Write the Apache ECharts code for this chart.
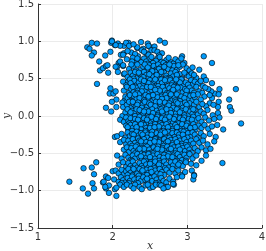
<!DOCTYPE html>
<html>
<head>
<meta charset="utf-8">
<script src="https://cdn.jsdelivr.net/npm/echarts@6/dist/echarts.min.js"></script>
<style>html,body{margin:0;padding:0;background:#fff}#c{width:266px;height:251px}</style>
</head>
<body>
<div id="c"></div>
<script>
const xTicks = [1, 2, 3, 4];
const xTickLabels = ['1', '2', '3', '4'];
const yTicks = [-1.5, -1.0, -0.5, 0.0, 0.5, 1.0, 1.5];
const yTickLabels = ['\u22121.5', '\u22121.0', '\u22120.5', '0.0', '0.5', '1.0', '1.5'];
const xName = 'x';
const yName = 'y';

const pointsTop = [
[1.66,0.92],[1.69,0.90],[1.72,0.98],[1.79,0.97],[1.98,0.98],[1.99,1.01],[2.03,0.95],[2.07,0.97],[2.15,0.94],[2.21,0.98],[2.18,0.98],[2.22,0.94],[2.10,0.94],[2.33,0.91],[2.47,0.97],[2.49,0.93],[2.33,0.92],[2.41,0.90],[2.48,0.94],[2.63,1.01],[2.70,0.98],[2.04,0.95],[2.28,0.96],[2.38,0.99],[2.56,0.93],[1.99,1.0],
[1.75,0.85],[1.72,0.81],[1.90,0.81],[1.97,0.86],[2.11,0.82],[2.15,0.84],[2.14,0.82],[2.25,0.85],[2.39,0.88],[2.52,0.88],[2.45,0.84],[2.56,0.88],[2.34,0.80],[2.93,0.80],[3.22,0.80],[2.30,0.83],[2.60,0.86],[2.48,0.82],[2.66,0.84],[2.20,0.87],[2.42,0.86],[2.62,0.81],
[1.82,0.73],[2.08,0.71],[2.19,0.76],[2.10,0.73],[2.27,0.78],[2.35,0.74],[2.49,0.76],[2.56,0.72],[2.72,0.75],[2.70,0.70],[2.65,0.73],[2.96,0.71],[3.33,0.71],[2.42,0.77],[2.30,0.71],[2.52,0.79],[2.60,0.77],[2.38,0.72],[2.45,0.73],[2.58,0.74],[2.78,0.72],[2.84,0.76],[2.63,0.79],[2.75,0.78],[2.26,0.73],[2.54,0.71],[2.68,0.71],[2.88,0.73],[2.81,0.70],[2.47,0.70],[2.33,0.77],[2.92,0.77],
[1.83,0.61],[1.87,0.64],[1.91,0.67],[1.93,0.68],[2.06,0.66],[2.04,0.66],[2.14,0.67],[2.14,0.68],[2.99,0.64],[3.16,0.62],[2.78,0.64],[2.22,0.63],[2.28,0.66],[2.33,0.69],[2.37,0.62],[2.41,0.66],[2.45,0.61],[2.49,0.68],[2.52,0.64],[2.55,0.67],[2.58,0.62],[2.61,0.69],[2.64,0.65],[2.67,0.61],[2.71,0.68],[2.74,0.63],[2.82,0.67],[2.86,0.62],[2.90,0.66],[2.94,0.69],[3.03,0.61],[3.07,0.65],[2.25,0.69],[2.43,0.69],[2.56,0.60],[2.69,0.66],[2.80,0.61],[2.31,0.61],[2.47,0.65],[2.62,0.63],[2.76,0.69],[2.88,0.68],
[1.94,0.58],[2.07,0.59],[2.15,0.56],[2.16,0.57],[2.90,0.56],[2.99,0.55],[3.22,0.53],[2.20,0.52],[2.24,0.58],[2.27,0.54],[2.30,0.59],[2.33,0.51],[2.36,0.56],[2.39,0.53],[2.42,0.59],[2.45,0.55],[2.48,0.51],[2.51,0.57],[2.54,0.53],[2.57,0.59],[2.60,0.52],[2.63,0.56],[2.66,0.50],[2.69,0.58],[2.72,0.54],[2.75,0.51],[2.78,0.57],[2.81,0.53],[2.84,0.59],[2.87,0.52],[2.93,0.50],[2.96,0.58],[3.02,0.53],[3.06,0.57],[3.12,0.51],[2.28,0.50],[2.41,0.52],[2.53,0.60],[2.65,0.59],[2.77,0.50],[2.35,0.58],[2.59,0.55],[2.71,0.50],[2.86,0.55],[3.09,0.55],[2.49,0.56]
];

const pointsUpperMid = [
[1.79,0.43],[2.14,0.46],[2.21,0.46],[3.25,0.48],[3.05,0.48],[3.07,0.42],[3.33,0.44],[3.21,0.40],[2.18,0.41],[2.23,0.49],[2.26,0.43],[2.29,0.47],[2.32,0.41],[2.35,0.45],[2.38,0.49],[2.41,0.42],[2.44,0.46],[2.47,0.40],[2.50,0.48],[2.53,0.43],[2.56,0.47],[2.59,0.41],[2.62,0.45],[2.65,0.49],[2.68,0.42],[2.71,0.46],[2.74,0.40],[2.77,0.48],[2.80,0.44],[2.83,0.41],[2.86,0.47],[2.89,0.43],[2.92,0.49],[2.95,0.41],[2.98,0.45],[3.01,0.42],[3.10,0.46],[3.14,0.43],[2.24,0.44],[2.36,0.40],[2.48,0.44],[2.57,0.49],[2.66,0.44],[2.79,0.41],[2.90,0.45],[3.18,0.47],[2.42,0.47],[2.70,0.48],[2.85,0.49],[2.61,0.40],
[1.97,0.37],[1.96,0.30],[2.01,0.30],[2.04,0.33],[2.15,0.34],[2.19,0.39],[3.43,0.36],[3.65,0.36],[3.37,0.30],[3.32,0.33],[3.12,0.39],[3.16,0.33],[3.28,0.36],[2.22,0.31],[2.25,0.36],[2.28,0.32],[2.31,0.38],[2.34,0.34],[2.37,0.30],[2.40,0.37],[2.43,0.33],[2.46,0.39],[2.49,0.31],[2.52,0.35],[2.55,0.38],[2.58,0.32],[2.61,0.36],[2.64,0.30],[2.67,0.39],[2.70,0.34],[2.73,0.31],[2.76,0.37],[2.79,0.33],[2.82,0.39],[2.85,0.30],[2.88,0.35],[2.91,0.38],[2.94,0.32],[2.97,0.36],[3.00,0.30],[3.03,0.38],[3.06,0.34],[3.09,0.31],[3.20,0.31],[3.24,0.38],[2.27,0.39],[2.39,0.33],[2.51,0.39],[2.63,0.34],[2.75,0.30],[2.87,0.38],[2.99,0.34],[2.33,0.31],[2.57,0.35],[2.81,0.35],
[2.05,0.22],[2.16,0.21],[2.17,0.26],[3.33,0.24],[3.23,0.26],[3.56,0.22],[3.30,0.28],[3.42,0.29],[2.20,0.24],[2.23,0.28],[2.26,0.21],[2.29,0.26],[2.32,0.23],[2.35,0.29],[2.38,0.20],[2.41,0.25],[2.44,0.28],[2.47,0.22],[2.50,0.27],[2.53,0.20],[2.56,0.24],[2.59,0.29],[2.62,0.22],[2.65,0.26],[2.68,0.20],[2.71,0.28],[2.74,0.23],[2.77,0.27],[2.80,0.21],[2.83,0.25],[2.86,0.29],[2.89,0.22],[2.92,0.26],[2.95,0.20],[2.98,0.28],[3.01,0.23],[3.04,0.27],[3.07,0.21],[3.10,0.25],[3.14,0.29],[3.18,0.22],[2.24,0.20],[2.36,0.24],[2.48,0.26],[2.60,0.25],[2.72,0.24],[2.84,0.21],[2.96,0.24],[3.08,0.28],[2.30,0.29],[2.42,0.21],[2.54,0.28],[2.66,0.23],[2.78,0.29],[2.90,0.20],
[1.99,0.19],[1.91,0.11],[2.05,0.12],[2.13,0.18],[2.14,0.12],[3.57,0.12],[3.42,0.19],[3.41,0.12],[3.30,0.17],[3.25,0.13],[2.19,0.15],[2.22,0.19],[2.25,0.11],[2.28,0.16],[2.31,0.13],[2.34,0.18],[2.37,0.10],[2.40,0.15],[2.43,0.19],[2.46,0.12],[2.49,0.17],[2.52,0.10],[2.55,0.14],[2.58,0.19],[2.61,0.12],[2.64,0.16],[2.67,0.11],[2.70,0.18],[2.73,0.13],[2.76,0.17],[2.79,0.10],[2.82,0.15],[2.85,0.19],[2.88,0.12],[2.91,0.16],[2.94,0.11],[2.97,0.18],[3.00,0.13],[3.03,0.17],[3.06,0.10],[3.09,0.15],[3.12,0.19],[3.16,0.12],[3.20,0.16],[2.27,0.19],[2.39,0.11],[2.51,0.15],[2.63,0.19],[2.75,0.14],[2.87,0.17],[2.99,0.15],[2.33,0.15],[2.57,0.13],[2.81,0.11],[3.35,0.15],
[1.98,0.06],[2.13,0.00],[3.59,0.07],[3.41,0.04],[3.34,0.01],[2.17,0.05],[2.20,0.09],[2.23,0.02],[2.26,0.07],[2.29,0.04],[2.32,0.09],[2.35,0.01],[2.38,0.06],[2.41,0.03],[2.44,0.08],[2.47,0.00],[2.50,0.05],[2.53,0.09],[2.56,0.02],[2.59,0.07],[2.62,0.04],[2.65,0.09],[2.68,0.01],[2.71,0.06],[2.74,0.03],[2.77,0.08],[2.80,0.00],[2.83,0.05],[2.86,0.09],[2.89,0.02],[2.92,0.07],[2.95,0.04],[2.98,0.09],[3.01,0.01],[3.04,0.06],[3.07,0.03],[3.10,0.08],[3.14,0.02],[3.18,0.06],[3.22,0.03],[3.27,0.08],[2.24,0.05],[2.36,0.08],[2.48,0.06],[2.60,0.01],[2.72,0.09],[2.84,0.03],[2.96,0.01],[3.08,0.09],[2.30,0.00],[2.42,0.06],[2.54,0.04],[2.66,0.06],[2.78,0.04],[2.90,0.05]
];

const pointsLowerMid = [
[3.72,-0.10],[3.43,-0.02],[2.10,-0.05],[2.15,-0.08],[2.18,-0.02],[2.21,-0.07],[2.24,-0.03],[2.27,-0.09],[2.30,-0.04],[2.33,-0.08],[2.36,-0.01],[2.39,-0.06],[2.42,-0.03],[2.45,-0.09],[2.48,-0.02],[2.51,-0.07],[2.54,-0.04],[2.57,-0.09],[2.60,-0.01],[2.63,-0.06],[2.66,-0.03],[2.69,-0.08],[2.72,-0.02],[2.75,-0.07],[2.78,-0.04],[2.81,-0.09],[2.84,-0.01],[2.87,-0.06],[2.90,-0.03],[2.93,-0.08],[2.96,-0.02],[2.99,-0.07],[3.02,-0.04],[3.05,-0.09],[3.08,-0.01],[3.11,-0.06],[3.15,-0.03],[3.19,-0.08],[3.24,-0.02],[3.29,-0.06],[3.36,-0.04],[2.22,-0.10],[2.34,-0.05],[2.46,-0.05],[2.58,-0.04],[2.70,-0.05],[2.82,-0.04],[2.94,-0.05],[3.06,-0.05],[2.40,-0.10],[2.64,-0.10],[2.88,-0.10],[2.52,-0.01],[2.76,-0.01],[3.00,-0.10],
[2.18,-0.13],[2.21,-0.18],[2.24,-0.12],[2.27,-0.16],[2.30,-0.11],[2.33,-0.19],[2.36,-0.14],[2.39,-0.17],[2.42,-0.12],[2.45,-0.16],[2.48,-0.19],[2.51,-0.13],[2.54,-0.17],[2.57,-0.11],[2.60,-0.15],[2.63,-0.19],[2.66,-0.12],[2.69,-0.16],[2.72,-0.11],[2.75,-0.18],[2.78,-0.14],[2.81,-0.17],[2.84,-0.12],[2.87,-0.19],[2.90,-0.15],[2.93,-0.11],[2.96,-0.17],[2.99,-0.13],[3.02,-0.19],[3.05,-0.14],[3.08,-0.11],[3.11,-0.18],[3.15,-0.13],[3.19,-0.16],[3.23,-0.12],[3.28,-0.17],[3.33,-0.14],[3.40,-0.12],[2.26,-0.20],[2.38,-0.11],[2.50,-0.16],[2.62,-0.14],[2.74,-0.15],[2.86,-0.15],[2.98,-0.20],[3.10,-0.15],[2.44,-0.20],[2.68,-0.20],[2.92,-0.20],[2.32,-0.15],[2.56,-0.15],[2.80,-0.20],[3.04,-0.16],[2.20,-0.15],[3.48,-0.18],
[2.03,-0.28],[2.06,-0.27],[2.12,-0.24],[2.17,-0.29],[2.20,-0.22],[2.23,-0.27],[2.26,-0.24],[2.29,-0.29],[2.32,-0.21],[2.35,-0.26],[2.38,-0.23],[2.41,-0.28],[2.44,-0.22],[2.47,-0.25],[2.50,-0.29],[2.53,-0.21],[2.56,-0.26],[2.59,-0.23],[2.62,-0.28],[2.65,-0.22],[2.68,-0.25],[2.71,-0.29],[2.74,-0.21],[2.77,-0.26],[2.80,-0.23],[2.83,-0.28],[2.86,-0.22],[2.89,-0.25],[2.92,-0.29],[2.95,-0.21],[2.98,-0.26],[3.01,-0.23],[3.04,-0.28],[3.07,-0.22],[3.10,-0.25],[3.14,-0.29],[3.18,-0.23],[3.22,-0.27],[3.30,-0.24],[3.38,-0.28],[2.28,-0.25],[2.40,-0.25],[2.52,-0.25],[2.64,-0.25],[2.76,-0.29],[2.88,-0.29],[3.00,-0.29],[2.46,-0.29],[2.70,-0.22],[2.94,-0.25],[2.34,-0.30],[2.58,-0.30],
[2.10,-0.35],[2.15,-0.32],[2.18,-0.38],[2.21,-0.33],[2.24,-0.37],[2.27,-0.31],[2.30,-0.36],[2.33,-0.39],[2.36,-0.33],[2.39,-0.37],[2.42,-0.31],[2.45,-0.35],[2.48,-0.39],[2.51,-0.32],[2.54,-0.36],[2.57,-0.31],[2.60,-0.38],[2.63,-0.33],[2.66,-0.37],[2.69,-0.31],[2.72,-0.35],[2.75,-0.39],[2.78,-0.32],[2.81,-0.36],[2.84,-0.31],[2.87,-0.38],[2.90,-0.33],[2.93,-0.37],[2.96,-0.31],[2.99,-0.35],[3.02,-0.39],[3.05,-0.33],[3.08,-0.37],[3.12,-0.31],[3.16,-0.36],[3.21,-0.33],[3.27,-0.38],[3.36,-0.34],[2.26,-0.40],[2.38,-0.34],[2.50,-0.36],[2.62,-0.35],[2.74,-0.34],[2.86,-0.35],[2.98,-0.39],[2.44,-0.40],[2.68,-0.40],[2.92,-0.40],[2.56,-0.34],[2.80,-0.39],
[2.15,-0.45],[2.19,-0.42],[2.22,-0.48],[2.25,-0.43],[2.28,-0.47],[2.31,-0.41],[2.34,-0.46],[2.37,-0.49],[2.40,-0.43],[2.43,-0.47],[2.46,-0.41],[2.49,-0.45],[2.52,-0.49],[2.55,-0.42],[2.58,-0.46],[2.61,-0.41],[2.64,-0.48],[2.67,-0.43],[2.70,-0.47],[2.73,-0.41],[2.76,-0.45],[2.79,-0.49],[2.82,-0.42],[2.85,-0.46],[2.88,-0.41],[2.91,-0.48],[2.94,-0.43],[2.97,-0.47],[3.00,-0.41],[3.03,-0.45],[3.06,-0.49],[3.10,-0.43],[3.14,-0.47],[3.19,-0.42],[3.25,-0.46],[3.31,-0.44],[2.30,-0.50],[2.42,-0.44],[2.54,-0.50],[2.66,-0.45],[2.78,-0.44],[2.90,-0.45],[3.02,-0.50],[2.48,-0.50],[2.72,-0.50],[2.60,-0.44],[2.84,-0.50],[2.36,-0.44]
];

const pointsBottom = [
[2.06,-0.53],[2.12,-0.57],[2.17,-0.52],[2.21,-0.56],[2.24,-0.59],[2.27,-0.53],[2.30,-0.57],[2.33,-0.51],[2.36,-0.55],[2.39,-0.59],[2.42,-0.52],[2.45,-0.56],[2.48,-0.51],[2.51,-0.58],[2.54,-0.53],[2.57,-0.57],[2.60,-0.51],[2.63,-0.55],[2.66,-0.59],[2.69,-0.52],[2.72,-0.56],[2.75,-0.51],[2.78,-0.58],[2.81,-0.53],[2.84,-0.57],[2.87,-0.51],[2.90,-0.55],[2.93,-0.59],[2.96,-0.52],[2.99,-0.56],[3.03,-0.51],[3.07,-0.57],[3.12,-0.53],[3.19,-0.60],[3.25,-0.53],[2.26,-0.60],[2.38,-0.54],[2.50,-0.55],[2.62,-0.60],[2.74,-0.54],[2.86,-0.60],[2.98,-0.60],[2.44,-0.60],[2.68,-0.56],[2.80,-0.55],
[1.61,-0.70],[1.72,-0.69],[1.78,-0.62],[2.08,-0.65],[2.14,-0.62],[2.18,-0.68],[2.21,-0.63],[2.24,-0.67],[2.27,-0.61],[2.30,-0.66],[2.33,-0.69],[2.36,-0.63],[2.39,-0.67],[2.42,-0.61],[2.45,-0.65],[2.48,-0.69],[2.51,-0.62],[2.54,-0.66],[2.57,-0.61],[2.60,-0.68],[2.63,-0.63],[2.66,-0.67],[2.69,-0.61],[2.72,-0.65],[2.75,-0.69],[2.78,-0.62],[2.81,-0.66],[2.84,-0.61],[2.87,-0.68],[2.90,-0.63],[2.94,-0.67],[2.98,-0.62],[3.05,-0.64],[3.47,-0.63],[3.12,-0.66],[2.26,-0.70],[2.40,-0.70],[2.56,-0.70],[2.70,-0.70],[2.50,-0.64],[2.62,-0.65],[2.88,-0.65],
[1.75,-0.78],[2.00,-0.74],[2.04,-0.73],[2.08,-0.77],[2.12,-0.72],[2.15,-0.78],[2.18,-0.74],[2.21,-0.71],[2.24,-0.76],[2.27,-0.79],[2.30,-0.73],[2.33,-0.77],[2.36,-0.71],[2.39,-0.75],[2.42,-0.79],[2.45,-0.72],[2.48,-0.76],[2.51,-0.71],[2.54,-0.78],[2.57,-0.73],[2.60,-0.77],[2.63,-0.71],[2.66,-0.75],[2.69,-0.79],[2.72,-0.72],[2.76,-0.76],[2.80,-0.71],[2.84,-0.77],[2.88,-0.73],[2.93,-0.79],[3.06,-0.73],[3.09,-0.79],[2.97,-0.75],[2.28,-0.71],[2.40,-0.73],[2.52,-0.75],[2.64,-0.78],[2.20,-0.79],[2.46,-0.79],[2.35,-0.80],
[1.42,-0.88],[1.73,-0.90],[1.87,-0.89],[1.91,-0.81],[1.94,-0.83],[2.02,-0.85],[2.08,-0.88],[2.11,-0.82],[2.14,-0.86],[2.17,-0.89],[2.20,-0.83],[2.23,-0.87],[2.26,-0.81],[2.29,-0.85],[2.32,-0.89],[2.35,-0.84],[2.38,-0.87],[2.41,-0.82],[2.44,-0.86],[2.47,-0.89],[2.50,-0.83],[2.53,-0.87],[2.56,-0.81],[2.59,-0.85],[2.62,-0.89],[2.65,-0.83],[2.68,-0.87],[2.72,-0.89],[2.76,-0.84],[2.81,-0.88],[2.86,-0.82],[2.93,-0.81],[3.08,-0.85],[3.09,-0.80],[2.22,-0.90],[2.34,-0.90],[2.46,-0.84],[2.58,-0.90],[2.12,-0.90],[1.88,-0.88],
[1.60,-0.97],[1.75,-0.97],[1.67,-1.04],[1.91,-0.97],[1.95,-1.03],[2.05,-1.07],[2.03,-0.98],[1.95,-0.93],[1.90,-0.95],[2.10,-0.92],[2.15,-0.95],[2.19,-0.92],[2.25,-0.94],[2.30,-0.92],[2.36,-0.95],[2.39,-0.98],[2.44,-0.93],[2.50,-0.96],[2.54,-0.95],[2.58,-0.92],[2.63,-0.92],[2.65,-0.93],[2.72,-0.95],[2.74,-0.95],[2.82,-0.92],[2.81,-0.91],[2.28,-0.97],[2.47,-0.92],[2.05,-0.96],[2.68,-0.97]
];

const allPoints = pointsTop.concat(pointsUpperMid, pointsLowerMid, pointsBottom);

const chart = echarts.init(document.getElementById('c'), null, {renderer: 'canvas'});
const labelFont = {fontFamily: 'DejaVu Sans', fontSize: 10, color: '#333'};
chart.setOption({
  animation: false,
  backgroundColor: '#fff',
  grid: {left: 38, right: 4, top: 4, bottom: 23, containLabel: false, outerBoundsMode: 'none'},
  xAxis: {
    type: 'value', min: xTicks[0], max: xTicks[xTicks.length - 1], interval: 1,
    name: xName, nameLocation: 'middle', nameGap: 13, nameMoveOverlap: false,
    nameTextStyle: {fontFamily: 'DejaVu Serif', fontStyle: 'italic', fontSize: 11, color: '#333'},
    axisLine: {show: true, onZero: false, lineStyle: {color: '#333', width: 1}},
    axisTick: {show: true, inside: true, length: 3, lineStyle: {color: '#333'}},
    axisLabel: Object.assign({margin: 4, formatter: v => xTickLabels[xTicks.indexOf(v)] ?? ''}, labelFont),
    splitLine: {show: true, lineStyle: {color: '#ebebeb', width: 1}}
  },
  yAxis: {
    type: 'value', min: yTicks[0], max: yTicks[yTicks.length - 1], interval: 0.5,
    name: yName, nameLocation: 'middle', nameGap: 25, nameRotate: 90, nameMoveOverlap: false,
    nameTextStyle: {fontFamily: 'DejaVu Serif', fontStyle: 'italic', fontSize: 11, color: '#333'},
    axisLine: {show: true, onZero: false, lineStyle: {color: '#333', width: 1}},
    axisTick: {show: true, inside: true, length: 3, lineStyle: {color: '#333'}},
    axisLabel: Object.assign({margin: 4, formatter: v => {
      const i = yTicks.findIndex(t => Math.abs(t - v) < 1e-9);
      return i >= 0 ? yTickLabels[i] : '';
    }}, labelFont),
    splitLine: {show: true, lineStyle: {color: '#ebebeb', width: 1}}
  },
  series: [{
    type: 'scatter',
    data: allPoints,
    symbol: 'circle',
    symbolSize: 5.5,
    silent: true,
    itemStyle: {color: '#009AFA', borderColor: 'rgba(0,0,0,0.9)', borderWidth: 0.7, opacity: 1}
  }]
});
</script>
</body>
</html>
